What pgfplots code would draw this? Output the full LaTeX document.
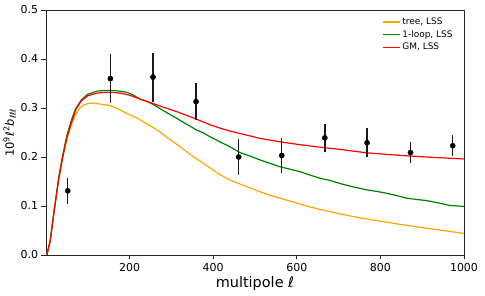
\documentclass[border=0pt]{standalone}
\usepackage{pgfplots}
\pgfplotsset{compat=1.18}
\usepackage{fontspec}
\setmainfont{DejaVu Sans}
\definecolor{mplorange}{HTML}{FFA500}
\definecolor{mplgreen}{HTML}{008000}
\definecolor{gmred}{RGB}{255,0,0}
\definecolor{legred}{RGB}{250,8,8}
\begin{document}
\begin{tikzpicture}
\begin{axis}[
  name=ax,
  scale only axis,
  width=418bp, height=245bp,
  xmin=0, xmax=1000, ymin=0, ymax=0.5,
  xtick={200,400,600,800,1000},
  ytick={0,0.1,0.2,0.3,0.4,0.5},
  yticklabel style={/pgf/number format/.cd, fixed, fixed zerofill, precision=1},
  xticklabel style={/pgf/number format/.cd, 1000 sep={}},
  /pgf/number format/assume math mode=true,
  tick label style={font=\fontsize{11}{12}\selectfont},
  xtick pos=bottom, ytick pos=left,
  tick align=outside,
  major tick length=4.5bp,
  axis line style={line width=0.8bp, black!85},
  every tick/.style={black!85, line width=0.8bp},
  xlabel={multipole \textit{ℓ}},
  xlabel style={font=\fontsize{14.5}{16}\selectfont, yshift=2bp},
  ylabel={10\textsuperscript{9}\textit{ℓ}\textsuperscript{2}\textit{b}\textsubscript{\textit{ℓℓℓ}}},
  ylabel style={font=\fontsize{11.5}{13}\selectfont, yshift=-2bp},
  legend style={at={(0.985,0.985)}, anchor=north east, draw=none, fill=none,
    font=\fontsize{9}{10}\selectfont, row sep=0.5bp},
  legend cell align=left,
]
\addlegendimage{line legend, draw=mplorange, line width=1.2bp}
\addlegendentry{tree, LSS}
\addlegendimage{line legend, draw=mplgreen, line width=1.2bp}
\addlegendentry{1-loop, LSS}
\addlegendimage{line legend, draw=legred, line width=1.6bp}
\addlegendentry{GM, LSS}
\addplot[mplorange, line width=1.2bp, forget plot] coordinates {
(2,0) (10,0.03) (20,0.093) (30,0.152) (40,0.198) (50,0.236) (60,0.264) (70,0.285)
(80,0.299) (90,0.306) (100,0.309) (112,0.310) (130,0.308) (153,0.305) (175,0.297)
(193,0.289) (215,0.281) (233,0.272) (253,0.262) (273,0.251) (293,0.238) (313,0.226)
(333,0.213) (352,0.201) (372,0.190) (392,0.178) (416,0.164) (440,0.153) (464,0.145)
(488,0.137) (512,0.129) (536,0.122) (560,0.116) (584,0.110) (608,0.104) (632,0.098)
(656,0.093) (703,0.084) (750,0.076) (800,0.069) (850,0.062) (900,0.056) (950,0.050)
(1000,0.044)
};
\addplot[mplgreen, line width=1.2bp, forget plot] coordinates {
(2,0) (10,0.029) (20,0.094) (30,0.156) (40,0.204) (50,0.244) (60,0.273) (70,0.297)
(85,0.317) (100,0.328) (120,0.334) (140,0.336) (160,0.336) (180,0.334) (193,0.332)
(210,0.326) (225,0.318) (240,0.314) (257,0.307) (280,0.295) (300,0.285) (313,0.279)
(330,0.270) (345,0.263) (360,0.255) (375,0.250) (392,0.2415) (416,0.231) (440,0.221)
(464,0.209) (488,0.202) (512,0.194) (536,0.187) (560,0.180) (584,0.175) (608,0.170)
(632,0.163) (656,0.1565) (680,0.152) (703,0.146) (730,0.140) (767,0.133) (790,0.130)
(815,0.126) (840,0.121) (863,0.116) (890,0.113) (911,0.111) (940,0.106) (967,0.101)
(985,0.100) (1000,0.099)
};
\addplot[gmred, line width=1.2bp, forget plot] coordinates {
(2,0) (10,0.028) (20,0.092) (30,0.152) (40,0.200) (50,0.240) (60,0.268) (72,0.298)
(85,0.315) (100,0.325) (120,0.330) (140,0.332) (160,0.332) (180,0.330) (200,0.326)
(233,0.316) (273,0.304) (313,0.2925) (352,0.280) (392,0.266) (416,0.259) (440,0.253)
(464,0.248) (512,0.238) (560,0.231) (608,0.225) (656,0.220) (703,0.2156) (767,0.2085)
(820,0.205) (871,0.202) (930,0.199) (1000,0.196)
};
\addplot[only marks, mark=*, mark size=2.6bp, black, forget plot,
  error bars/.cd, y dir=both, y explicit, error mark=none,
  error bar style={line width=1.4bp, black!90}]
  table[x=x, y=y, y error=e] {
x y e
52 0.131 0.026
154 0.360 0.050
256 0.363 0.050
359 0.313 0.038
461 0.200 0.036
564 0.203 0.035
667 0.239 0.028
768 0.229 0.030
872 0.209 0.022
973 0.223 0.021
};
\end{axis}
\path ([shift={(-46bp,-41bp)}]ax.south west) rectangle ([shift={(21bp,10bp)}]ax.north east);
\end{tikzpicture}
\end{document}
